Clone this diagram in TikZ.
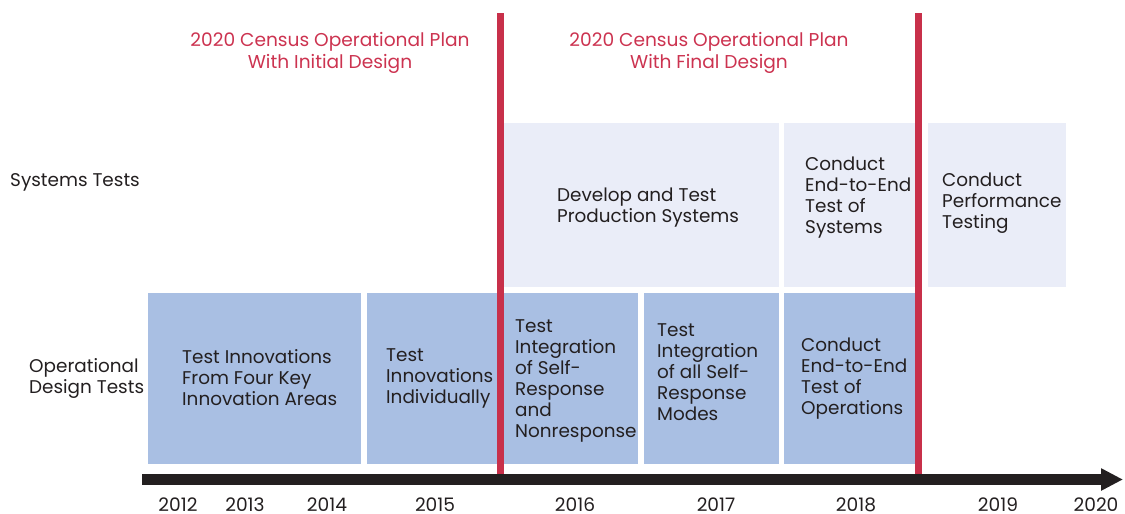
\documentclass[tikz,border=0pt]{standalone}
\usepackage{fontspec}
\setmainfont{Poppins}
\usetikzlibrary{arrows.meta}
\definecolor{redline}{HTML}{C8304A}
\definecolor{redtext}{HTML}{CC3350}
\definecolor{lightbox}{HTML}{EAEDF8}
\definecolor{bluebox}{HTML}{A9BFE3}
\definecolor{ink}{HTML}{231F20}
\begin{document}
\begin{tikzpicture}[x=1pt,y=-1pt,
  boxlight/.style={fill=lightbox,draw=none},
  boxblue/.style={fill=bluebox,draw=none},
  lbl/.style={font=\fontsize{18.4}{21}\selectfont,text=ink,align=left,anchor=west,inner sep=0pt},
  ttl/.style={font=\fontsize{18.6}{22}\selectfont,text=redtext,align=center,inner sep=0pt},
  yr/.style={font=\fontsize{18.6}{21}\selectfont,text=ink,inner sep=0pt,anchor=base},
  redbar/.style={draw=redline,line width=7pt}]
\useasboundingbox (0,0) rectangle (1125,514);
% light boxes
\fill[boxlight] (504,123) rectangle (779,287);
\fill[boxlight] (784,123) rectangle (915,287);
\fill[boxlight] (928,123) rectangle (1066,287);
% blue boxes
\fill[boxblue] (148,293) rectangle (361,464);
\fill[boxblue] (367,293) rectangle (500,464);
\fill[boxblue] (503,293) rectangle (638,464);
\fill[boxblue] (644,293) rectangle (779,464);
\fill[boxblue] (784,293) rectangle (915,464);
% red dividers
\coordinate (r1t) at (500.8,13);
\coordinate (r1b) at (500.8,476);
\coordinate (r2t) at (918.5,13);
\coordinate (r2b) at (918.5,476);
\draw[redbar] (r1t) -- (r1b);
\draw[redbar] (r2t) -- (r2b);
% time axis
\coordinate (axs) at (142,479.5);
\coordinate (axe) at (1123,479.5);
\draw[ink,line width=11pt,-{Triangle[length=22pt,width=21pt]}] (axs) -- (axe);
% titles
\node[ttl] (t1) at (330,53) {2020 Census Operational Plan\\With Initial Design};
\node[ttl] (t2) at (709,53) {2020 Census Operational Plan\\With Final Design};
% row labels
\node[lbl] (sys) at (10,182) {Systems Tests};
\node[lbl] (ops) at (29,378.5) {Operational\\Design Tests};
% box texts
\node[lbl] (ba) at (182,378) {Test Innovations\\From Four Key\\Innovation Areas};
\node[lbl] (bb) at (386,378) {Test\\Innovations\\Individually};
\node[lbl] (bc) at (515,380.5) {Test\\Integration\\of Self-\\Response\\and\\Nonresponse};
\node[lbl] (bd) at (657,372) {Test\\Integration\\of all Self-\\Response\\Modes};
\node[lbl] (be) at (801,378.5) {Conduct\\End-to-End\\Test of\\Operations};
\node[lbl] (s1) at (557,207.5) {Develop and Test\\Production Systems};
\node[lbl] (s2) at (805,197.5) {Conduct\\End-to-End\\Test of\\Systems};
\node[lbl] (s3) at (942,203.5) {Conduct\\Performance\\Testing};
% years
\node[yr] (y12) at (178,511) {2012};
\node[yr] (y13) at (245,511) {2013};
\node[yr] (y14) at (327,511) {2014};
\node[yr] (y15) at (435,511) {2015};
\node[yr] (y16) at (575,511) {2016};
\node[yr] (y17) at (716,511) {2017};
\node[yr] (y18) at (856,511) {2018};
\node[yr] (y19) at (998,511) {2019};
\node[yr] (y20) at (1096,511) {2020};
\end{tikzpicture}
\end{document}
